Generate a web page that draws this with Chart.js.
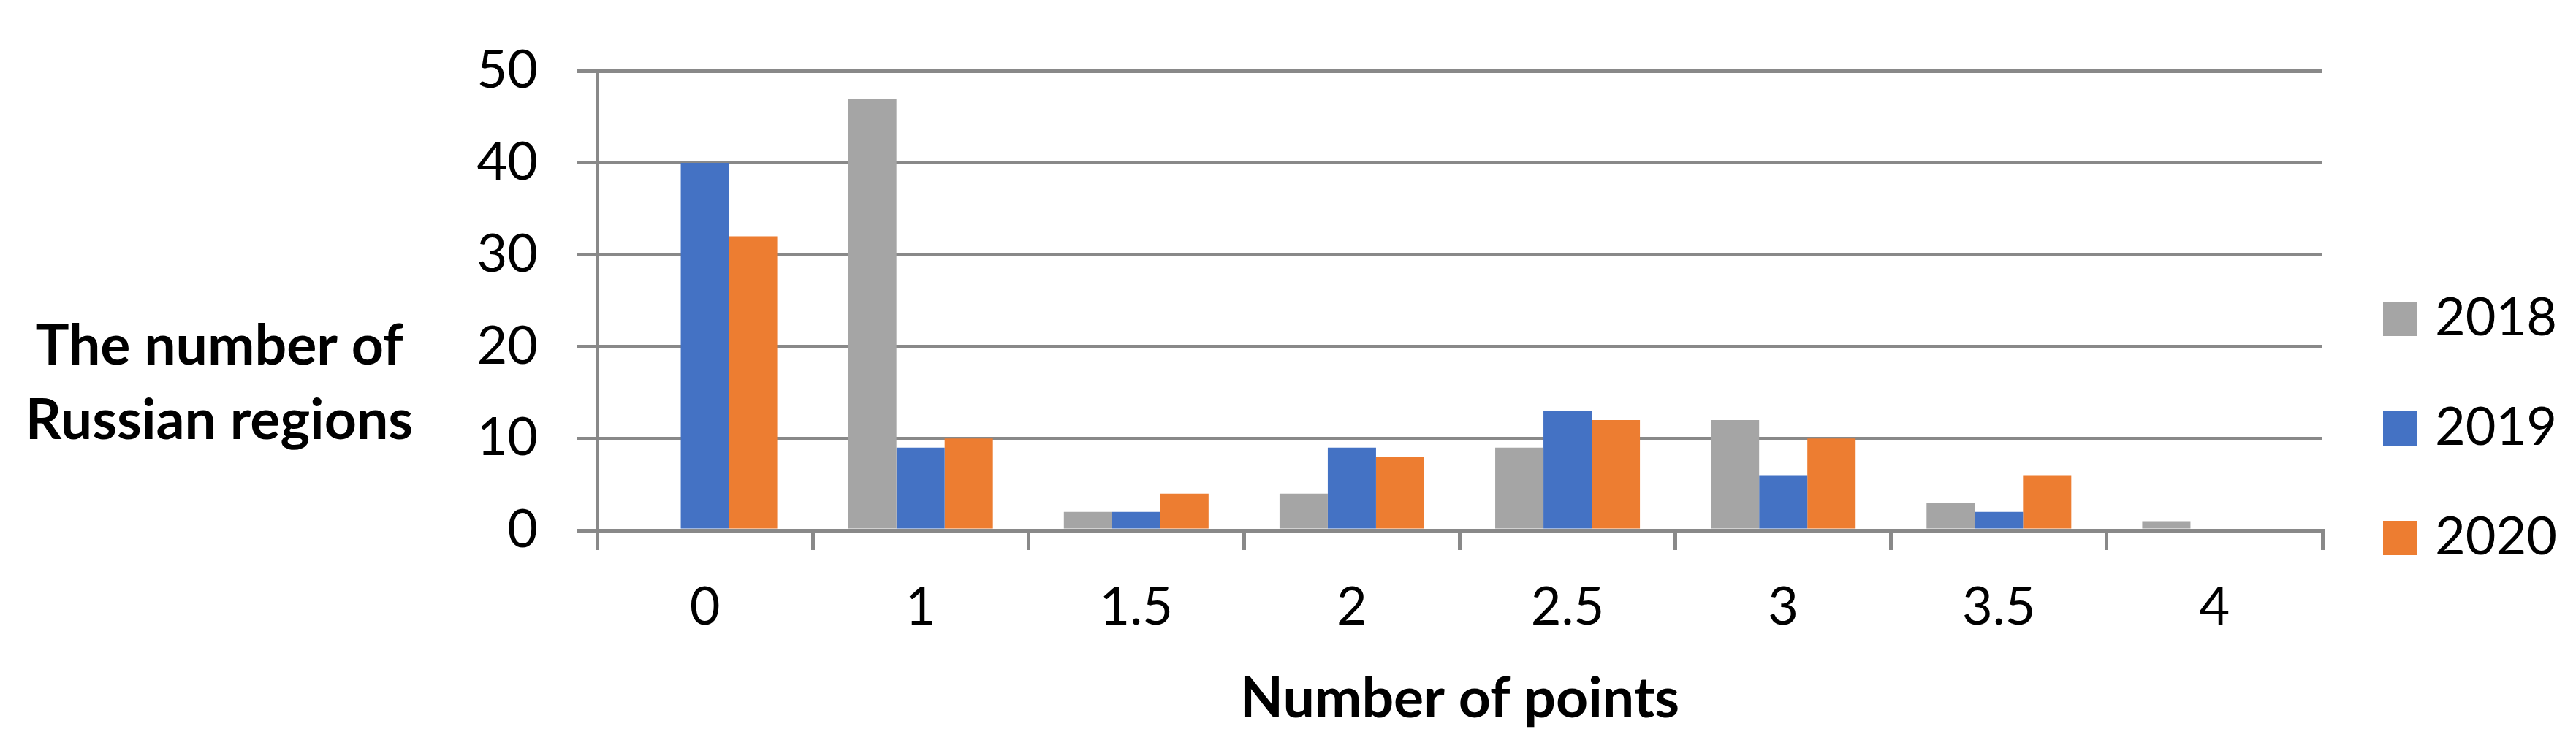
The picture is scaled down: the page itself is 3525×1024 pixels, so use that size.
<!DOCTYPE html>
<html>
<head>
<meta charset="utf-8">
<style>
  html, body { margin: 0; padding: 0; background: #fff; }
  canvas { display: block; }
</style>
<script src="https://cdn.jsdelivr.net/npm/chart.js@4.4.1/dist/chart.umd.min.js"></script>
</head>
<body>
<canvas id="myChart" width="3525" height="1024"></canvas>
<script>
const categories = ["0", "1", "1.5", "2", "2.5", "3", "3.5", "4"];
const years = ["2018", "2019", "2020"];
const values2018 = [0, 47, 2, 4, 9, 12, 3, 1];
const values2019 = [40, 9, 2, 9, 13, 6, 2, 0];
const values2020 = [32, 10, 4, 8, 12, 10, 6, 0];
const yTitle = ["The number of", "Russian regions"];
const xTitle = "Number of points";

const font = "Lato, 'Noto Sans', sans-serif";
const gridColor = "#898989";
const colors = ["#A5A5A5", "#4472C4", "#ED7D31"];

// side legend + horizontal y title, drawn on the canvas
const extras = {
  id: "extras",
  afterDraw(chart) {
    const { ctx, chartArea } = chart;
    ctx.save();
    ctx.fillStyle = "#000";
    ctx.textAlign = "center";
    ctx.textBaseline = "middle";
    ctx.font = "bold 77px " + font;
    ctx.fillText(yTitle[0], 300, 474);
    ctx.fillText(yTitle[1], 300, 576);

    ctx.textAlign = "left";
    ctx.font = "72px " + font;
    chart.data.datasets.forEach((ds, i) => {
      const cy = 436 + i * 150;
      const x = chartArea.right + 83;
      ctx.fillStyle = ds.backgroundColor;
      ctx.fillRect(x, cy - 23, 47, 47);
      ctx.fillStyle = "#000";
      ctx.fillText(ds.label, x + 71, cy);
    });
    ctx.restore();
  },
};

const ctx = document.getElementById("myChart");

const myChart = new Chart(ctx, {
  type: "bar",
  data: {
    labels: categories,
    datasets: [
      { label: years[0], data: values2018, backgroundColor: colors[0] },
      { label: years[1], data: values2019, backgroundColor: colors[1] },
      { label: years[2], data: values2020, backgroundColor: colors[2] },
    ],
  },
  options: {
    responsive: false,
    animation: false,
    devicePixelRatio: 1,
    datasets: {
      bar: { categoryPercentage: 0.671, barPercentage: 1.0, borderWidth: 0 },
    },
    layout: { padding: { left: 600, right: 347, top: 52, bottom: 0 } },
    plugins: {
      legend: { display: false },
      tooltip: { enabled: false },
    },
    scales: {
      x: {
        grid: {
          display: true,
          drawOnChartArea: false,
          drawTicks: true,
          tickLength: 27,
          offset: true,
          color: gridColor,
          lineWidth: 5,
        },
        border: { display: true, color: gridColor, width: 5 },
        ticks: {
          color: "#000",
          font: { family: font, size: 72 },
          padding: 36,
          maxRotation: 0,
          autoSkip: false,
        },
        title: {
          display: true,
          text: xTitle,
          color: "#000",
          font: { family: font, size: 77, weight: "bold" },
          padding: { top: 0, bottom: 21 },
        },
        afterFit(scale) {
          scale.height = 298;
        },
      },
      y: {
        min: 0,
        max: 50,
        ticks: {
          stepSize: 10,
          color: "#000",
          font: { family: font, size: 72 },
          padding: 54,
        },
        grid: {
          color: gridColor,
          lineWidth: 5,
          drawTicks: true,
          tickLength: 27,
        },
        border: { display: true, color: gridColor, width: 5 },
        afterFit(scale) {
          scale.width = 217;
        },
      },
    },
  },
  plugins: [extras],
});
</script>
</body>
</html>
